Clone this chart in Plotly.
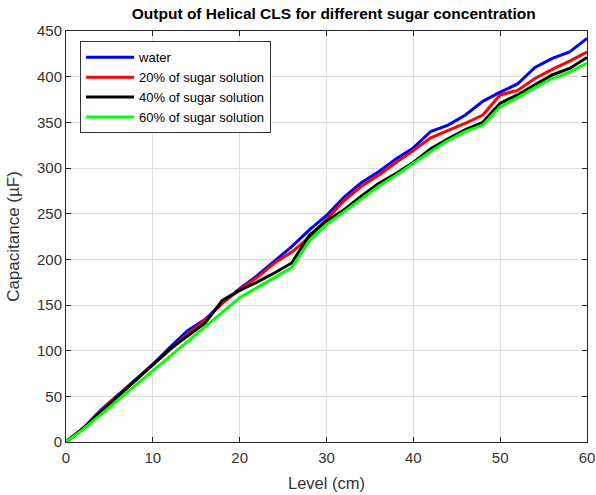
import plotly.graph_objects as go

# Liquid level (cm) and measured capacitance (µF) for each liquid
level_cm = list(range(0, 61, 2))

water = [0, 15, 35, 52, 68, 85, 104, 122, 134, 152, 168, 182, 198, 214, 232, 248,
         268, 284, 296, 310, 322, 340, 347, 358, 373, 383, 392, 410, 420, 427, 442]
sugar_20 = [0, 15, 34, 51, 68, 84, 102, 118, 133, 152, 167, 180, 196, 208, 224, 244,
            264, 280, 292, 306, 319, 333, 341, 349, 358, 380, 385, 398, 408, 417, 427]
sugar_40 = [0, 15, 33, 50, 67, 84, 102, 116, 130, 155, 166, 175, 185, 196, 226, 242,
            254, 269, 283, 294, 306, 321, 332, 342, 350, 371, 380, 391, 402, 409, 421]
sugar_60 = [0, 14, 30, 46, 62, 78, 94, 110, 126, 142, 158, 169, 180, 191, 220, 238,
            252, 266, 280, 292, 305, 318, 330, 340, 347, 367, 377, 388, 398, 405, 415]

series_names = ["water", "20% of sugar solution", "40% of sugar solution", "60% of sugar solution"]
series_values = [water, sugar_20, sugar_40, sugar_60]
series_colors = ["#0000ff", "#ff0000", "#000000", "#00ff00"]

x_ticks = list(range(0, 61, 10))
y_ticks = list(range(0, 451, 50))

FONT = "Liberation Sans, Arial, Helvetica, sans-serif"
AXIS_COLOR = "#262626"

fig = go.Figure()
for name, vals, color in zip(series_names, series_values, series_colors):
    fig.add_trace(go.Scatter(x=level_cm, y=vals, mode="lines", name=name,
                             line=dict(color=color, width=3)))

axis_common = dict(
    showline=True, linecolor=AXIS_COLOR, linewidth=1, mirror="ticks",
    ticks="inside", ticklen=5, tickcolor=AXIS_COLOR, tickwidth=1,
    showgrid=True, gridcolor="#dedede", gridwidth=1, zeroline=False,
    automargin=False,
    tickfont=dict(family=FONT, size=15, color="#333333"),
)

fig.update_layout(
    width=596, height=495,
    margin=dict(l=66, r=9, t=31, b=53),
    paper_bgcolor="white", plot_bgcolor="white",
    title=dict(text="<b>Output of Helical CLS for different sugar concentration</b>",
               x=0.56, xanchor="center", y=0.972, yanchor="middle",
               font=dict(family=FONT, size=15.5, color="#000000")),
    xaxis=dict(range=[0, 60], tickvals=x_ticks, ticklabelstandoff=2,
               title=dict(text="Level (cm)", standoff=12,
                          font=dict(family=FONT, size=16.5, color="#333333")),
               **axis_common),
    yaxis=dict(range=[0, 450], tickvals=y_ticks,
               title=dict(text="Capacitance (µF)", standoff=13,
                          font=dict(family=FONT, size=17, color="#333333")),
               **axis_common),
    legend=dict(x=0.027, y=0.975, xanchor="left", yanchor="top",
                bgcolor="white", bordercolor="#333333", borderwidth=1,
                font=dict(family=FONT, size=13, color="#000000"),
                itemwidth=48, tracegroupgap=0),
    showlegend=True,
)

fig.write_html("out.html")
